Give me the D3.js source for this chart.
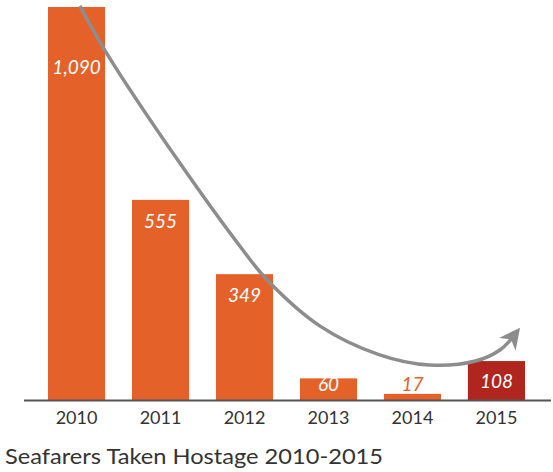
<!DOCTYPE html>
<html>
<head>
<meta charset="utf-8">
<script src="https://cdn.jsdelivr.net/npm/d3@7"></script>
<style>
  html, body { margin: 0; padding: 0; background: #fff; }
  svg { display: block; }
</style>
</head>
<body>
<svg id="chart" width="553" height="472"></svg>
<script>
// ---- data ----
const years = ["2010", "2011", "2012", "2013", "2014", "2015"];
const hostages = [1090, 555, 349, 60, 17, 108];
const valueLabels = ["1,090", "555", "349", "60", "17", "108"];
const title = "Seafarers Taken Hostage 2010-2015";
// trend arrow, in (year index, value) units
const trendIndex = [0.04, 0.35, 1.23, 1.98, 2.27, 2.90, 3.60, 4.20, 4.75, 5.05, 5.22];
const trendValue = [1093, 965, 657, 416, 333, 205, 126, 97, 108, 140, 182];

// ---- layout ----
const svg = d3.select("#chart");
const baseY = 400;
const x = d3.scaleBand().domain(years).range([48, 525]).paddingInner(0.32).paddingOuter(0);
const y = d3.scaleLinear().domain([0, 1090]).range([baseY, 7]);
const xi = d3.scaleLinear().domain([0, 5])
  .range([x(years[0]) + x.bandwidth() / 2, x(years[5]) + x.bandwidth() / 2]);

const orange = "#E5612A";
const darkRed = "#B0261F";
const font = "Lato, 'Open Sans', sans-serif";

// bars
svg.append("g").selectAll("rect")
  .data(hostages)
  .join("rect")
  .attr("x", (d, i) => x(years[i]))
  .attr("y", d => y(d))
  .attr("width", x.bandwidth())
  .attr("height", d => baseY - y(d))
  .attr("fill", (d, i) => i === hostages.length - 1 ? darkRed : orange);

// axis
const axis = svg.append("g").attr("transform", `translate(0,${baseY})`)
  .call(d3.axisBottom(x).tickSize(0).tickPadding(11));
axis.select(".domain").remove();
axis.selectAll("text")
  .attr("font-family", font)
  .attr("font-size", 18)
  .attr("fill", "#333");
svg.append("line")
  .attr("x1", 24).attr("x2", 551)
  .attr("y1", baseY + 0.5).attr("y2", baseY + 0.5)
  .attr("stroke", "#555").attr("stroke-width", 2);

// value labels
svg.append("g").selectAll("text")
  .data(hostages)
  .join("text")
  .attr("x", (d, i) => x(years[i]) + x.bandwidth() / 2)
  .attr("y", d => {
    const h = baseY - y(d);
    if (h > 300) return y(d) + 67;
    if (h > 60) return y(d) + 28;
    if (h > 30) return baseY - 12;
    return baseY - 9;
  })
  .attr("text-anchor", "middle")
  .attr("font-family", font)
  .attr("font-style", "italic")
  .attr("font-size", 19)
  .attr("fill", (d, i) => (baseY - y(d)) < 15 ? orange : "#fff")
  .text((d, i) => valueLabels[i]);

// trend arrow
const defs = svg.append("defs");
defs.append("marker")
  .attr("id", "arrow")
  .attr("viewBox", "0 0 10 10")
  .attr("refX", 6).attr("refY", 5)
  .attr("markerWidth", 6).attr("markerHeight", 6)
  .attr("markerUnits", "strokeWidth")
  .attr("orient", "auto")
  .append("path")
  .attr("d", "M0,0 L10,5 L0,10 L3,5 Z")
  .attr("fill", "#8d8d8d");

const line = d3.line()
  .x(d => xi(d[0]))
  .y(d => y(d[1]))
  .curve(d3.curveCatmullRom.alpha(0.5));
svg.append("path")
  .datum(trendIndex.map((t, i) => [t, trendValue[i]]))
  .attr("d", line)
  .attr("fill", "none")
  .attr("stroke", "#8d8d8d")
  .attr("stroke-width", 3.5)
  .attr("stroke-linecap", "butt")
  .attr("marker-end", "url(#arrow)");

// title
svg.append("text")
  .attr("x", 5).attr("y", 464)
  .attr("font-family", font)
  .attr("font-size", 22)
  .attr("textLength", 378)
  .attr("lengthAdjust", "spacingAndGlyphs")
  .attr("fill", "#333")
  .text(title);
</script>
</body>
</html>
